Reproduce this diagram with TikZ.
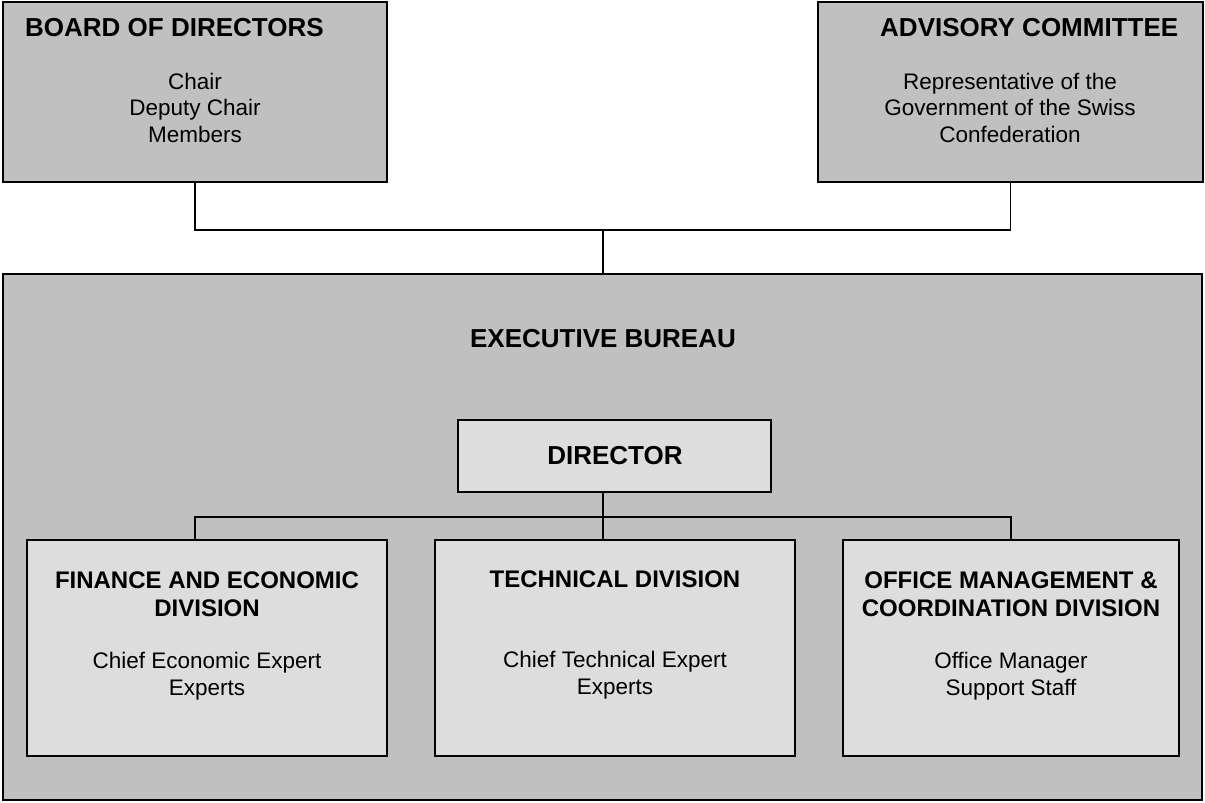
\documentclass[tikz,border=0pt]{standalone}
\usepackage{fontspec}
\setmainfont{Liberation Sans}
\definecolor{outergray}{HTML}{C0C0C0}
\definecolor{innergray}{HTML}{DDDDDD}
\tikzset{
  bigbox/.style={draw,line width=1.7pt,fill=outergray,inner sep=0pt},
  smallbox/.style={draw,line width=1.5pt,fill=innergray,inner sep=0pt},
  head/.style={font=\bfseries\fontsize{26}{28}\selectfont,inner sep=0pt},
  headsm/.style={font=\bfseries\fontsize{24}{28}\selectfont,inner sep=0pt},
  staff/.style={font=\fontsize{22.5}{26.5}\selectfont,align=center,inner sep=0pt},
  link/.style={line width=1.4pt}
}
\begin{document}
\begin{tikzpicture}[x=1pt,y=-1pt]
\useasboundingbox (0,0) rectangle (1205,803);
%% top boxes
\node[bigbox,minimum width=384pt,minimum height=180pt] (board) at (195,92) {};
\node[bigbox,minimum width=385pt,minimum height=180pt] (advisory) at (1010.5,92) {};
\node[head,anchor=base west] (boardtitle) at (25,36) {BOARD OF DIRECTORS};
\node[staff,anchor=base] (boardstaff) at (195,142) {Chair\\Deputy Chair\\Members};
\node[head,anchor=base west] (advtitle) at (880,36) {ADVISORY COMMITTEE};
\node[staff,anchor=base] (advstaff) at (1010,142) {Representative of the\\Government of the Swiss\\Confederation};
%% executive bureau
\node[bigbox,minimum width=1199pt,minimum height=526pt] (exec) at (602.5,537) {};
\node[head,anchor=base] (exectitle) at (603,347) {EXECUTIVE BUREAU};
%% top joint
\coordinate (topjoin) at (603,230);
\draw[link] (board.south) |- (topjoin) -| (advisory.south);
\draw[link] (topjoin) -- (topjoin |- exec.north);
%% director and divisions
\node[smallbox,minimum width=313pt,minimum height=72pt] (director) at (614.5,456) {};
\node[head,anchor=base] (dirtitle) at (615,464) {DIRECTOR};
\node[smallbox,minimum width=360pt,minimum height=216pt] (finance) at (207,648) {};
\node[smallbox,minimum width=360pt,minimum height=216pt] (tech) at (615,648) {};
\node[smallbox,minimum width=336pt,minimum height=216pt] (office) at (1011,648) {};
\coordinate (divjoin) at (603,517);
\draw[link] (director.south -| divjoin) -- (tech.north -| divjoin);
\draw[link] (finance.north -| board.south) |- (divjoin) -| (office.north);
%% division texts
\node[headsm,align=center,anchor=base] (fintitle) at (207,616) {FINANCE AND ECONOMIC\\DIVISION};
\node[staff,anchor=base] (finstaff) at (207,695) {Chief Economic Expert\\Experts};
\node[headsm,anchor=base] (techtitle) at (615,587) {TECHNICAL DIVISION};
\node[staff,anchor=base] (techstaff) at (615,694) {Chief Technical Expert\\Experts};
\node[headsm,align=center,anchor=base] (offtitle) at (1011,616) {OFFICE MANAGEMENT \&\\COORDINATION DIVISION};
\node[staff,anchor=base] (offstaff) at (1011,695) {Office Manager\\Support Staff};
\end{tikzpicture}
\end{document}
